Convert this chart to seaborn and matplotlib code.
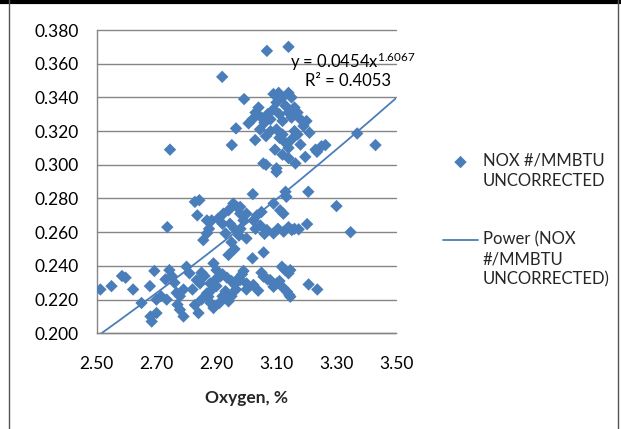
import numpy as np
import pandas as pd
import matplotlib
matplotlib.use("Agg")
import matplotlib.pyplot as plt
import seaborn as sns
from matplotlib.lines import Line2D
from matplotlib.legend_handler import HandlerLine2D, HandlerPathCollection
from matplotlib.transforms import Affine2D

# ---- data ----
oxygen = [
    # lower band
    2.513, 2.550, 2.585, 2.597, 2.622, 2.650, 2.680, 2.684, 2.700, 2.693, 2.678, 2.700, 2.715, 2.734,
    2.743, 2.751, 2.730, 2.760, 2.767, 2.778, 2.790, 2.778, 2.790, 2.770, 2.800, 2.810, 2.834, 2.845,
    2.828, 2.840, 2.850, 2.820, 2.868, 2.873, 2.880, 2.890, 2.885, 2.900, 2.910, 2.920, 2.930, 2.890,
    2.900, 2.912, 2.895, 2.879, 2.860, 2.850, 2.940, 2.920, 2.935, 2.950, 2.960, 2.970, 2.985, 2.990,
    2.950, 2.965, 2.940, 2.979, 3.000, 3.023, 3.000, 3.020, 3.057, 3.039, 3.050, 3.057, 3.079, 3.101,
    3.090, 3.070, 3.118, 3.129, 3.140, 3.146, 3.124, 3.135, 3.146, 3.143, 3.110, 3.207, 3.236,
    # middle band
    2.736, 2.828, 2.843, 2.836, 2.868, 2.884, 2.868, 2.856, 2.875, 2.923, 2.940, 2.956, 2.968, 2.979,
    2.990, 2.930, 2.950, 2.960, 2.945, 2.960, 2.975, 2.980, 2.920, 2.905, 3.021, 2.979, 3.000, 3.023,
    3.046, 3.068, 3.090, 3.124, 3.151, 3.174, 3.202, 3.000, 3.100, 3.130, 3.133, 3.090, 3.112, 3.123,
    3.206, 3.300, 3.347, 3.030, 3.060, 3.105, 3.140, 3.160, 3.035, 3.050,
    # upper band
    2.745, 2.919, 2.992, 2.965, 3.007, 2.951, 3.068, 3.140, 3.107, 3.140, 3.029, 3.369, 3.430, 3.056,
    3.100, 3.163, 3.196, 3.235, 3.263, 3.020, 3.030, 3.040, 3.050, 3.060, 3.070, 3.080, 3.090, 3.100,
    3.110, 3.120, 3.130, 3.140, 3.150, 3.160, 3.170, 3.180, 3.190, 3.200, 3.210, 3.120, 3.130, 3.140,
    3.150, 3.160, 3.170, 3.180, 3.100, 3.110, 3.080, 3.065, 3.045, 3.095, 3.120, 3.140, 3.230, 3.250,
    3.065, 3.090, 3.150, 3.120,
]
nox = [
    # lower band
    0.226, 0.228, 0.234, 0.233, 0.226, 0.218, 0.210, 0.207, 0.212, 0.237, 0.228, 0.220, 0.222, 0.220,
    0.2375, 0.234, 0.232, 0.230, 0.224, 0.222, 0.226, 0.214, 0.210, 0.217, 0.2395, 0.2356, 0.2316, 0.2296,
    0.2168, 0.212, 0.220, 0.226, 0.2237, 0.2217, 0.218, 0.215, 0.226, 0.228, 0.218, 0.222, 0.225, 0.2415,
    0.2375, 0.2336, 0.2316, 0.2296, 0.234, 0.236, 0.2465, 0.235, 0.233, 0.231, 0.229, 0.232, 0.235, 0.237,
    0.222, 0.226, 0.219, 0.2316, 0.2296, 0.2287, 0.226, 0.2445, 0.248, 0.2253, 0.236, 0.2336, 0.2316, 0.2296,
    0.2276, 0.232, 0.2395, 0.2375, 0.2356, 0.2375, 0.2267, 0.2247, 0.2217, 0.2227, 0.231, 0.229, 0.226,
    # middle band
    0.263, 0.278, 0.279, 0.270, 0.267, 0.267, 0.2593, 0.2553, 0.262, 0.271, 0.273, 0.277, 0.275, 0.271,
    0.267, 0.2593, 0.254, 0.250, 0.265, 0.262, 0.258, 0.262, 0.265, 0.268, 0.2826, 0.275, 0.271, 0.267,
    0.264, 0.2613, 0.2593, 0.2603, 0.2613, 0.2617, 0.2648, 0.2563, 0.2958, 0.284, 0.281, 0.277, 0.273, 0.271,
    0.284, 0.2755, 0.260, 0.262, 0.259, 0.262, 0.263, 0.262, 0.270, 0.272,
    # upper band
    0.309, 0.3522, 0.339, 0.3216, 0.3246, 0.3117, 0.3676, 0.370, 0.3427, 0.3427, 0.3147, 0.3186, 0.3117, 0.3008,
    0.2979, 0.3008, 0.3047, 0.3077, 0.3117, 0.327, 0.331, 0.334, 0.328, 0.325, 0.330, 0.327, 0.333, 0.337,
    0.330, 0.326, 0.335, 0.331, 0.328, 0.334, 0.331, 0.327, 0.323, 0.326, 0.319, 0.318, 0.313, 0.310,
    0.315, 0.320, 0.318, 0.312, 0.321, 0.316, 0.320, 0.317, 0.321, 0.309, 0.306, 0.304, 0.309, 0.311,
    0.300, 0.342, 0.340, 0.340,
]
trend_a = 0.0454
trend_b = 1.6067
r_squared = 0.4053
x_ticks = [2.50, 2.70, 2.90, 3.10, 3.30, 3.50]
y_ticks = [0.200, 0.220, 0.240, 0.260, 0.280, 0.300, 0.320, 0.340, 0.360, 0.380]
x_label = "Oxygen, %"
series_label = "NOX #/MMBTU\nUNCORRECTED"
trend_label = "Power (NOX\n#/MMBTU\nUNCORRECTED)"

# ---- style ----
sns.set_theme(style="white")
plt.rcParams['font.family'] = ['Lato', 'DejaVu Sans']
plt.rcParams['mathtext.default'] = 'regular'
blue = '#4A7EBB'
gray = '#868686'

W, H = 621, 429
fig = plt.figure(figsize=(W / 100, H / 100), dpi=100)
ax = fig.add_axes([96.5 / W, 1 - 333.3 / H, (396.5 - 96.5) / W, (333.3 - 30) / H])

df = pd.DataFrame({'Oxygen': oxygen, 'NOX': nox})
sns.scatterplot(data=df, x='Oxygen', y='NOX', marker='D', s=40, color=blue,
                edgecolor='none', linewidth=0, ax=ax, label=series_label, zorder=3)

xt = np.linspace(x_ticks[0], x_ticks[-1], 300)
tdf = pd.DataFrame({'x': xt, 'y': trend_a * xt ** trend_b})
sns.lineplot(data=tdf, x='x', y='y', color=blue, linewidth=1.3, ax=ax,
             label=trend_label, zorder=2)

ax.set_xlim(x_ticks[0], x_ticks[-1])
ax.set_ylim(y_ticks[0], y_ticks[-1])
ax.set_xticks(x_ticks)
ax.set_xticklabels([f"{v:.2f}" for v in x_ticks])
ax.set_yticks(y_ticks)
ax.set_yticklabels([f"{v:.3f}" for v in y_ticks])
ax.yaxis.grid(True, color=gray, linewidth=1)
ax.xaxis.grid(False)
for gl in ax.get_ygridlines():
    gl.set_clip_on(False)
for s in ['top', 'right']:
    ax.spines[s].set_visible(False)
for s in ['left', 'bottom']:
    ax.spines[s].set_color(gray)
    ax.spines[s].set_linewidth(1)
ax.tick_params(axis='both', direction='out', length=5, width=1, color=gray,
               labelsize=12.5, labelcolor='black')
ax.tick_params(axis='y', pad=8)
ax.tick_params(axis='x', pad=11)
ax.set_xlabel(x_label, fontsize=12.5, fontweight='bold', labelpad=13)
ax.set_ylabel('')

# trendline equation
ax.text(3.146, 0.3614, r"y = 0.0454x$^{1.6067}$", fontsize=12, ha='left', va='center', color='black')
ax.text(3.195, 0.3497, f"R\u00b2 = {r_squared:.4f}", fontsize=12, ha='left', va='center', color='black')


# legend: handles aligned with the first line of each (multi-line) label
def raised(base, dy):
    class _Raised(base):
        def create_artists(self, legend, orig_handle, xdescent, ydescent,
                           width, height, fontsize, trans):
            return super().create_artists(legend, orig_handle, xdescent, ydescent,
                                          width, height, fontsize,
                                          trans + Affine2D().translate(0, dy))
    return _Raised()


handles, labels = ax.get_legend_handles_labels()
hmap = {}
for h in handles:
    if isinstance(h, Line2D):
        hmap[h] = raised(HandlerLine2D, 20)
    else:
        hmap[h] = raised(HandlerPathCollection, 11)

leg = ax.legend(handles, labels, handler_map=hmap,
                loc='upper left', bbox_to_anchor=(443 / W, 1 - 153 / H),
                bbox_transform=fig.transFigure, frameon=False, fontsize=12,
                handlelength=2.1, handletextpad=0.28, labelspacing=2.55,
                borderpad=0, borderaxespad=0, markerscale=1.0)
for t in leg.get_texts():
    t.set_linespacing(1.3)

# outer frame pieces
fig.add_artist(Line2D([0, 1], [1 - 1.5 / H, 1 - 1.5 / H], color='black', linewidth=3,
                      transform=fig.transFigure))
fig.add_artist(Line2D([8.5 / W, 8.5 / W], [0, 1], color='#555555', linewidth=1,
                      transform=fig.transFigure))
fig.add_artist(Line2D([617.5 / W, 617.5 / W], [0, 1], color='#555555', linewidth=1,
                      transform=fig.transFigure))

fig.savefig('out.png', dpi=100)
